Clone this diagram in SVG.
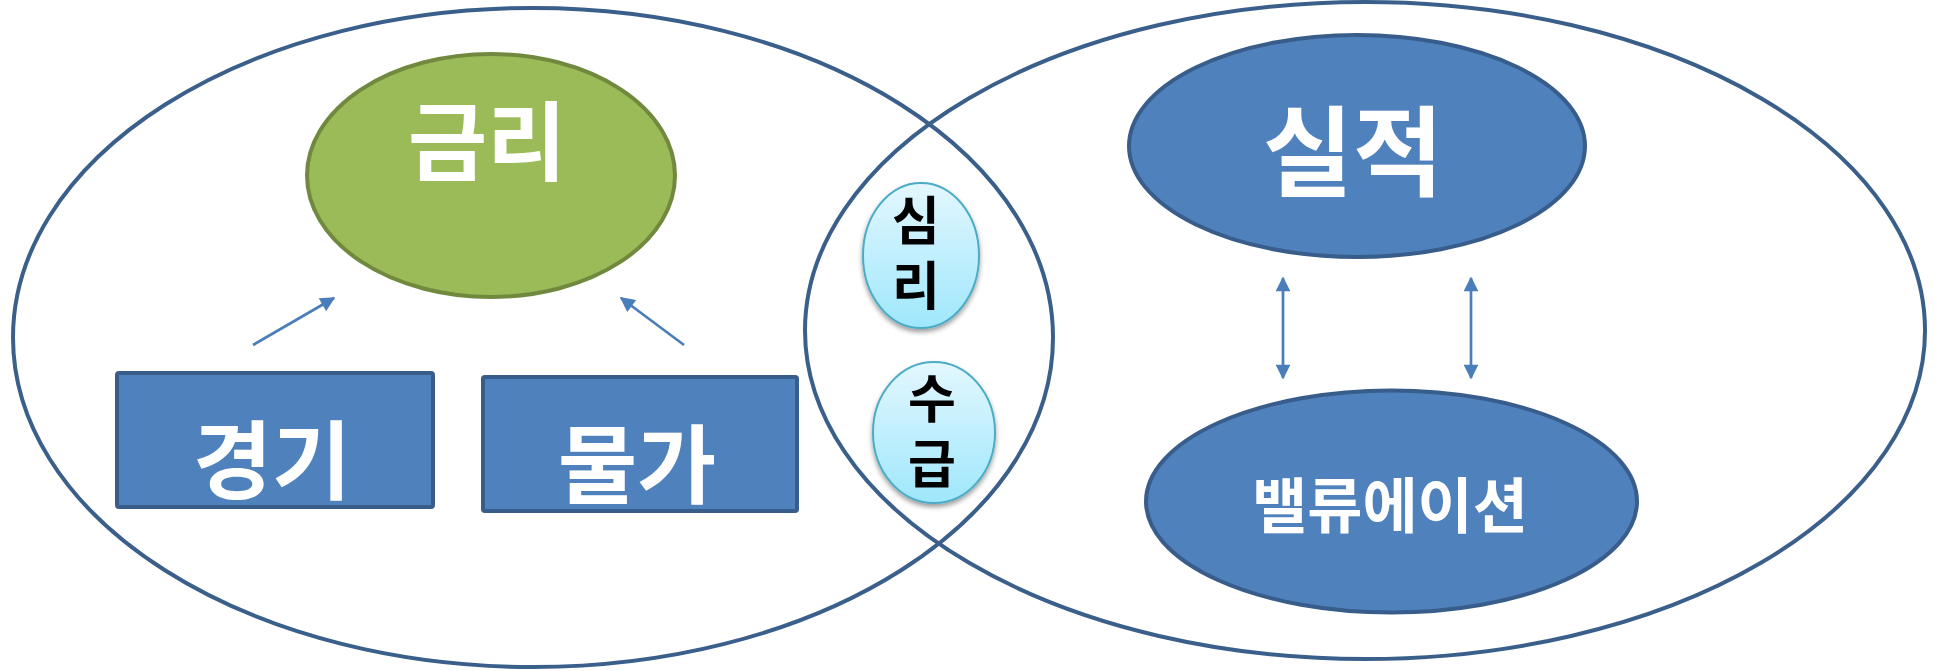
<svg xmlns="http://www.w3.org/2000/svg" width="1935" height="671" viewBox="0 0 1935 671">
<defs>
<style>
.big{fill:none;stroke:#3b5f8b;stroke-width:4}
.blue{fill:#4f81bd;stroke:#385d8a;stroke-width:4}
.green{fill:#9bbb59;stroke:#71893f;stroke-width:4}
.cyan{fill:url(#cg);stroke:#4bacc6;stroke-width:2;filter:url(#sh)}
.wt{fill:#ffffff;font-family:"Noto Sans CJK KR","Noto Sans",sans-serif;font-weight:bold;text-anchor:middle;dominant-baseline:central}
.bt{fill:#000000;font-family:"Noto Sans CJK KR","Noto Sans",sans-serif;font-weight:bold;text-anchor:middle;font-size:52px;writing-mode:vertical-rl;text-orientation:upright;letter-spacing:12.5px}
.arr{stroke:#4a7ebb;stroke-width:2.7;fill:none}
</style>
<linearGradient id="cg" x1="0" y1="0" x2="0" y2="1">
<stop offset="0" stop-color="#e3f7fe"/>
<stop offset="1" stop-color="#9fe7fc"/>
</linearGradient>
<filter id="sh" x="-20%" y="-20%" width="140%" height="140%">
<feGaussianBlur in="SourceAlpha" stdDeviation="2.5"/>
<feOffset dx="0" dy="3" result="b"/>
<feComponentTransfer><feFuncA type="linear" slope="0.4"/></feComponentTransfer>
<feMerge><feMergeNode/><feMergeNode in="SourceGraphic"/></feMerge>
</filter>
<marker id="ah" viewBox="0 0 10 10" refX="9" refY="5" markerWidth="6" markerHeight="5.5" markerUnits="strokeWidth" orient="auto-start-reverse">
<path d="M0,0 L10,5 L0,10 z" fill="#4a7ebb"/>
</marker>
</defs>
<rect width="1935" height="671" fill="#ffffff"/>
<g id="left-circle"><ellipse class="big" cx="533" cy="337.5" rx="520" ry="329.5"/></g>
<g id="right-circle"><ellipse class="big" cx="1365" cy="330.5" rx="560" ry="328.5"/></g>
<g id="connectors">
<line class="arr" x1="253" y1="345" x2="334" y2="298" marker-end="url(#ah)"/>
<line class="arr" x1="684" y1="345" x2="621" y2="298" marker-end="url(#ah)"/>
<line class="arr" x1="1283" y1="278" x2="1283" y2="378" marker-start="url(#ah)" marker-end="url(#ah)"/>
<line class="arr" x1="1471" y1="278" x2="1471" y2="378" marker-start="url(#ah)" marker-end="url(#ah)"/>
</g>
<g id="node-geumri"><ellipse class="green" cx="491" cy="175.5" rx="184" ry="121.5"/><text class="wt" x="487" y="136" font-size="86">금리</text></g>
<g id="node-gyeonggi"><rect class="blue" x="117" y="373" width="316" height="134" rx="2"/><text class="wt" x="272" y="455.5" font-size="86">경기</text></g>
<g id="node-mulga"><rect class="blue" x="483" y="377" width="314" height="134" rx="2"/><text class="wt" x="637" y="459.5" font-size="86">물가</text></g>
<g id="node-silli"><ellipse class="cyan" cx="921" cy="255.5" rx="58" ry="72.5"/><text class="bt" x="916" y="259">심리</text></g>
<g id="node-sugeup"><ellipse class="cyan" cx="934" cy="432.5" rx="61" ry="70.5"/><text class="bt" x="932" y="437">수급</text></g>
<g id="node-siljeok"><ellipse class="blue" cx="1357" cy="146" rx="228" ry="111"/><text class="wt" x="1353" y="145" font-size="98">실적</text></g>
<g id="node-valuation"><ellipse class="blue" cx="1391.5" cy="501.5" rx="245.5" ry="111"/><text class="wt" x="1390" y="501" font-size="60">밸류에이션</text></g>
</svg>
